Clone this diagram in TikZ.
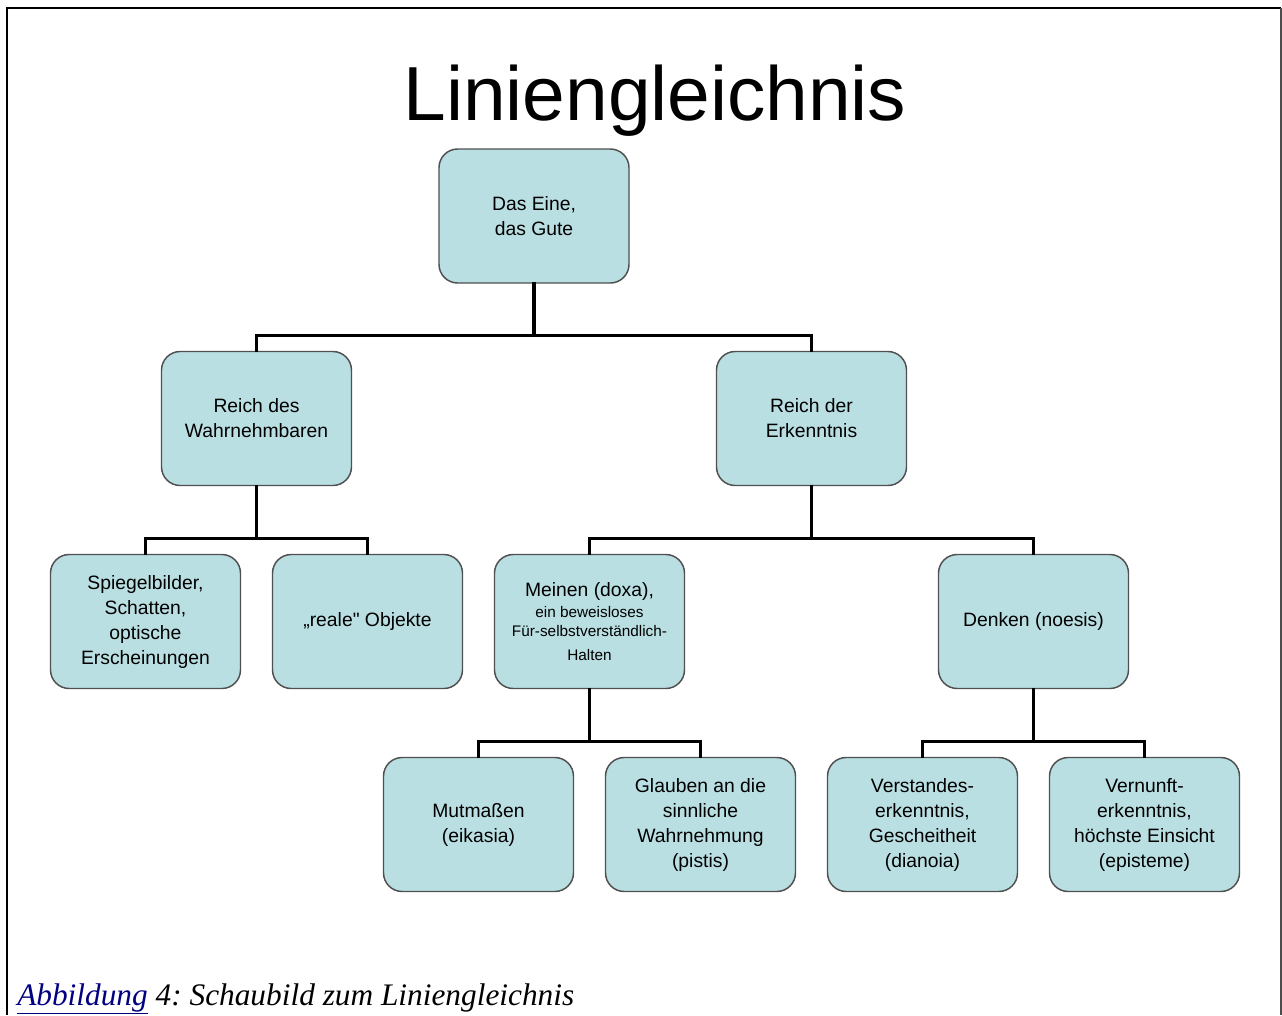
\documentclass[tikz,border=0pt]{standalone}
\usepackage{fontspec}
\setmainfont{Liberation Serif}
\setsansfont{Liberation Sans}
\definecolor{boxfill}{HTML}{BADFE2}
\definecolor{boxline}{HTML}{505050}
\definecolor{linkblue}{HTML}{000080}
\begin{document}
\begin{tikzpicture}[x=0.75pt,y=-0.75pt,
  box/.style={draw=boxline, line width=1.1pt, fill=boxfill, rounded corners=14pt,
    minimum width=142.5pt, minimum height=100.5pt, inner sep=2pt, align=center,
    font=\sffamily\fontsize{14.5}{18.75}\selectfont},
  conn/.style={line width=2.3pt, line cap=rect}]
\useasboundingbox (0,0) rectangle (1282,1015);
\fill[white] (0,0) rectangle (1282,1015);
% frame
\draw[line width=2.2pt] (7,1015) -- (7,8) -- (1281,8);
\draw[line width=1.3pt, gray!60!black] (1281,8) -- (1281,1015);
% title
\node (title) at (655,101) {\sffamily\fontsize{57.5}{60}\selectfont Liniengleichnis};
% nodes
\node[box] (gut) at (534,216) {Das Eine,\\das Gute};
\node[box] (wahr) at (256.5,418.5) {Reich des\\Wahrnehmbaren};
\node[box] (erk) at (811.5,418.5) {Reich der\\Erkenntnis};
\node[box] (spie) at (145.5,621.5) {Spiegelbilder,\\Schatten,\\optische\\Erscheinungen};
\node[box] (real) at (367.5,621.5) {„reale\textquotedbl{} Objekte};
\node[box] (mein) at (589.5,621.5) {Meinen (doxa),\\[-2.75pt]{\fontsize{11.5}{19}\selectfont ein beweisloses}\\[-4.75pt]{\fontsize{11.5}{19}\selectfont Für-selbstverständlich-}\\[-1pt]{\fontsize{11.5}{19}\selectfont Halten}};
\node[box] (denk) at (1033.5,621.5) {Denken (noesis)};
\node[box] (mutm) at (478.5,824.5) {Mutmaßen\\(eikasia)};
\node[box] (glau) at (700.5,824.5) {Glauben an die\\sinnliche\\Wahrnehmung\\(pistis)};
\node[box] (vers) at (922.5,824.5) {Verstandes-\\erkenntnis,\\Gescheitheit\\(dianoia)};
\node[box] (vern) at (1144.5,824.5) {Vernunft-\\erkenntnis,\\höchste Einsicht\\(episteme)};
% connectors
\draw[conn] (gut.south) -- ++(0,52) -| (wahr.north);
\draw[conn] (gut.south) -- ++(0,52) -| (erk.north);
\draw[conn] (wahr.south) -- ++(0,52) -| (spie.north);
\draw[conn] (wahr.south) -- ++(0,52) -| (real.north);
\draw[conn] (erk.south) -- ++(0,52) -| (mein.north);
\draw[conn] (erk.south) -- ++(0,52) -| (denk.north);
\draw[conn] (mein.south) -- ++(0,52) -| (mutm.north);
\draw[conn] (mein.south) -- ++(0,52) -| (glau.north);
\draw[conn] (denk.south) -- ++(0,52) -| (vers.north);
\draw[conn] (denk.south) -- ++(0,52) -| (vern.north);
% caption
\node[anchor=base west, inner sep=0pt, font=\itshape\fontsize{23.5}{28}\selectfont] (cap) at (17,1005)
  {\frenchspacing\textcolor{linkblue}{\underline{Abbildung}} 4: Schaubild zum Liniengleichnis};
\end{tikzpicture}
\end{document}
